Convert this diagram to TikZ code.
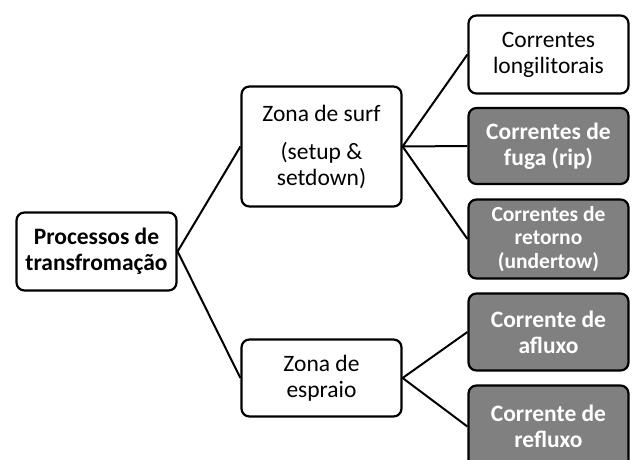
\documentclass[tikz,border=0pt]{standalone}
\usepackage{fontspec}
\setmainfont{Carlito}
\usepackage{tikz}
\usetikzlibrary{positioning}

\tikzset{
	caixa/.style={draw, line width=2.2pt, rounded corners=8pt, align=center, minimum width=160pt, inner sep=0pt, fill=white, font=\fontsize{23.5}{26}\selectfont},
	escura/.style={caixa, fill=black!50, text=white, font=\fontsize{23.5}{26}\selectfont\bfseries},
	ligacao/.style={line width=2pt}
}

\begin{document}
\begin{tikzpicture}[x=1pt, y=1pt]
	% Limites
	\useasboundingbox (0,0) rectangle (632,459);
	
	% Raiz
	\node[caixa, minimum height=78pt, font=\fontsize{23.5}{26}\selectfont\bfseries] (proc) at (96.5, 207.5) {Processos de\\transfromação};
	
	% Zonas
	\node[caixa, minimum height=120pt] (surf) at (321.5, 312.5) {Zona de surf\\[12pt](setup \&\\setdown)};
	\node[caixa, minimum height=77pt] (espraio) at (321.5, 81) {Zona de\\espraio};
	
	% Correntes
	\node[caixa, minimum height=78pt] (longi) at (548.5, 404.5) {Correntes\\longilitorais};
	\node[escura, minimum height=76pt] (fuga) at (548.5, 313) {Correntes de\\fuga (rip)};
	\node[escura, minimum height=79pt, font=\fontsize{21.5}{23.5}\selectfont\bfseries] (retorno) at (548.5, 220) {Correntes de\\retorno\\(undertow)};
	\node[escura, minimum height=77pt] (afluxo) at (548.5, 127) {Corrente de\\afluxo};
	\node[escura, minimum height=82pt] (refluxo) at (548.5, 32.5) {Corrente de\\refluxo};
	
	% Ligacoes
	\draw[ligacao] (proc.east) -- (surf.west);
	\draw[ligacao] (proc.east) -- (espraio.west);
	\foreach \destino in {longi, fuga, retorno}
	\draw[ligacao] (surf.east) -- (\destino.west);
	\foreach \destino in {afluxo, refluxo}
	\draw[ligacao] (espraio.east) -- (\destino.west);
	
\end{tikzpicture}
\end{document}
